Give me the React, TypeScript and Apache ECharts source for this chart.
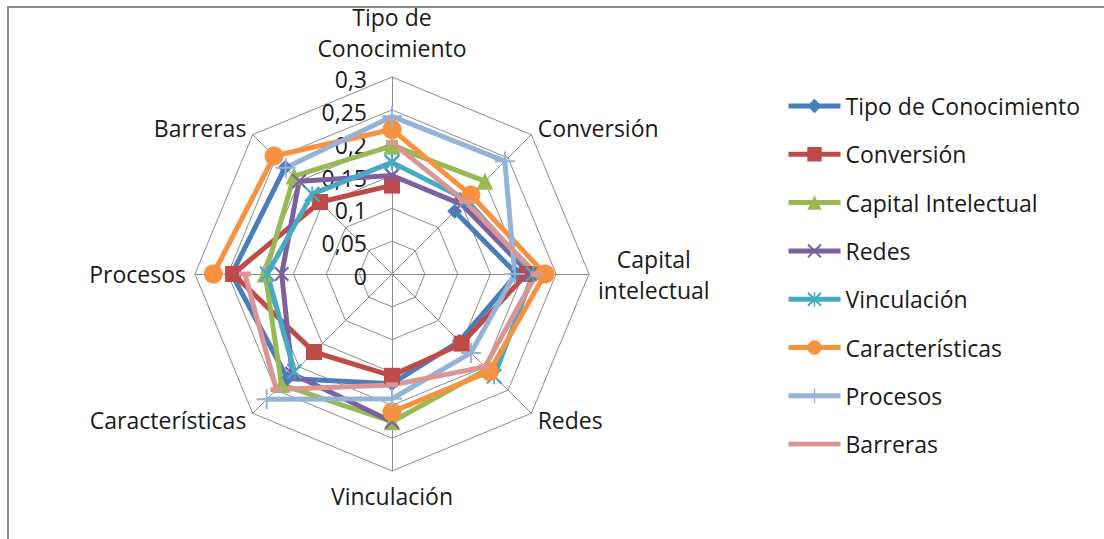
import { useEffect, useRef } from 'react';
import * as echarts from 'echarts';

// Axis categories, clockwise from the top (display labels)
const categories = [
  'Tipo de\nConocimiento',
  'Conversión',
  'Capital\nintelectual',
  'Redes',
  'Vinculación',
  'Características',
  'Procesos',
  'Barreras',
];

const seriesNames = [
  'Tipo de Conocimiento',
  'Conversión',
  'Capital Intelectual',
  'Redes',
  'Vinculación',
  'Características',
  'Procesos',
  'Barreras',
];

// Values per series, clockwise axis order (null = no value on its own axis)
const tipoDeConocimiento = [null, 0.135, 0.19, 0.145, 0.167, 0.225, 0.244, 0.23];
const conversion = [0.135, null, 0.205, 0.15, 0.155, 0.168, 0.242, 0.155];
const capitalIntelectual = [0.195, 0.2, null, 0.205, 0.225, 0.238, 0.193, 0.211];
const redes = [0.15, 0.15, 0.21, null, 0.225, 0.215, 0.168, 0.2];
const vinculacion = [0.17, 0.16, 0.215, 0.22, null, 0.21, 0.19, 0.172];
const caracteristicas = [0.22, 0.17, 0.233, 0.21, 0.21, null, 0.272, 0.254];
const procesos = [0.24, 0.243, 0.187, 0.17, 0.19, 0.27, null, 0.229];
const barreras = [0.2, 0.157, 0.22, 0.2, 0.169, 0.249, 0.224, null];

const axisMin = 0;
const axisMax = 0.3;
const axisInterval = 0.05;

const colors = ['#4A7EBB', '#BE4B48', '#98B954', '#7D60A0', '#46AAC5', '#F69240', '#95B3D7', '#D99694'];

const crossPath = 'path://M2,0 L10,8 L18,0 L20,2 L12,10 L20,18 L18,20 L10,12 L2,20 L0,18 L8,10 L0,2 Z';
const starPath = 'path://M2,0 L10,8 L18,0 L20,2 L12,10 L20,18 L18,20 L10,12 L2,20 L0,18 L8,10 L0,2 Z M9,0 L11,0 L11,20 L9,20 Z';
const plusPath = 'path://M9,0 L11,0 L11,9 L20,9 L20,11 L11,11 L11,20 L9,20 L9,11 L0,11 L0,9 L9,9 Z';
const dashPath = 'path://M0,0 L20,0 L20,8 L0,8 Z';
const plainLineIcon = 'path://M0,0 L55,0 L55,5 L0,5 Z';

const symbols = ['diamond', 'rect', 'triangle', crossPath, starPath, 'circle', plusPath, dashPath];
const symbolSizes: any[] = [15, 16, 17, 15, 16, 19, 20, [12, 5]];

const FONT = 'Open Sans';

export default function App() {
  const ref = useRef<HTMLDivElement>(null);

  useEffect(() => {
    if (!ref.current) return;
    const chart = echarts.init(ref.current, undefined, { renderer: 'svg' });
    const all = [tipoDeConocimiento, conversion, capitalIntelectual, redes, vinculacion, caracteristicas, procesos, barreras];
    const n = categories.length;
    // radar places indicators counter-clockwise; reorder so labels sit clockwise
    const ccwOrder = Array.from({ length: n }, (_, k) => (n - k) % n);

    const cx = 392;
    const cy = 274;
    const R = 197;

    chart.setOption({
      animation: false,
      backgroundColor: '#ffffff',
      graphic: [
        {
          type: 'rect',
          silent: true,
          z: -10,
          shape: { x: 8, y: 7, width: 1200, height: 600 },
          style: { fill: 'none', stroke: '#8a8a8a', lineWidth: 2 },
        },
      ],
      radar: {
        center: [cx, cy],
        radius: R,
        startAngle: 90,
        shape: 'polygon',
        splitNumber: 6,
        nameGap: 9,
        indicator: ccwOrder.map((i) => ({ name: categories[i], min: axisMin, max: axisMax })),
        axisName: {
          color: '#1a1a1a',
          fontSize: 23,
          fontFamily: FONT,
          formatter: (name: string) => {
            const lines = name.split('\n');
            if (name === categories[0]) {
              return lines.map((l) => `{t|${l}}`).join('\n') + '\n{s| }';
            }
            return lines.map((l) => `{c|${l}}`).join('\n');
          },
          rich: {
            c: { align: 'center', fontSize: 23, lineHeight: 31, fontFamily: FONT, color: '#1a1a1a' },
            t: { align: 'center', fontSize: 23, lineHeight: 31, fontFamily: FONT, color: '#1a1a1a' },
            s: { fontSize: 2, lineHeight: 5 },
          },
        },
        splitLine: { lineStyle: { color: '#8c8c8c', width: 1 } },
        splitArea: { show: false },
        axisLine: { lineStyle: { color: '#8c8c8c', width: 1 } },
        axisTick: { show: false },
        axisLabel: { show: false },
      },
      polar: { center: [cx, cy], radius: R },
      angleAxis: {
        type: 'value',
        min: 0,
        max: n,
        startAngle: 90,
        clockwise: true,
        show: false,
      },
      radiusAxis: { type: 'value', min: axisMin, max: axisMax, show: false },
      grid: { left: cx, top: 79, width: 1, height: R },
      xAxis: { type: 'value', show: false },
      yAxis: {
        type: 'value',
        min: axisMin,
        max: axisMax,
        interval: axisInterval,
        axisLine: { show: false },
        axisTick: { show: false },
        splitLine: { show: false },
        axisLabel: {
          margin: 25,
          fontSize: 23,
          fontFamily: FONT,
          color: '#1a1a1a',
          formatter: (v: number) => String(Math.round(v * 100) / 100).replace('.', ','),
        },
      },
      legend: {
        orient: 'vertical',
        left: 781,
        top: 88,
        itemWidth: 52,
        itemHeight: 18,
        itemGap: 22.3,
        lineStyle: { width: 5 },
        data: seriesNames.map((nm) => (nm === 'Barreras' ? { name: nm, icon: plainLineIcon } : nm)),
        textStyle: { fontSize: 23, fontFamily: FONT, color: '#1a1a1a', lineHeight: 26 },
      },
      series: all.map((vals, s) => ({
        type: 'line',
        name: seriesNames[s],
        coordinateSystem: 'polar',
        polarIndex: 0,
        data: [...vals, vals[0]].map((v, i) => [v, i]),
        symbol: symbols[s],
        symbolSize: symbolSizes[s],
        showSymbol: true,
        showAllSymbol: true,
        connectNulls: false,
        lineStyle: { width: 5, color: colors[s] },
        itemStyle: { color: colors[s] },
        emphasis: { disabled: true },
      })),
    });

    return () => chart.dispose();
  }, []);

  return (
    <div
      ref={ref}
      style={{ position: 'absolute', left: 0, top: 0, width: 1104, height: 539, background: '#fff' }}
    />
  );
}
